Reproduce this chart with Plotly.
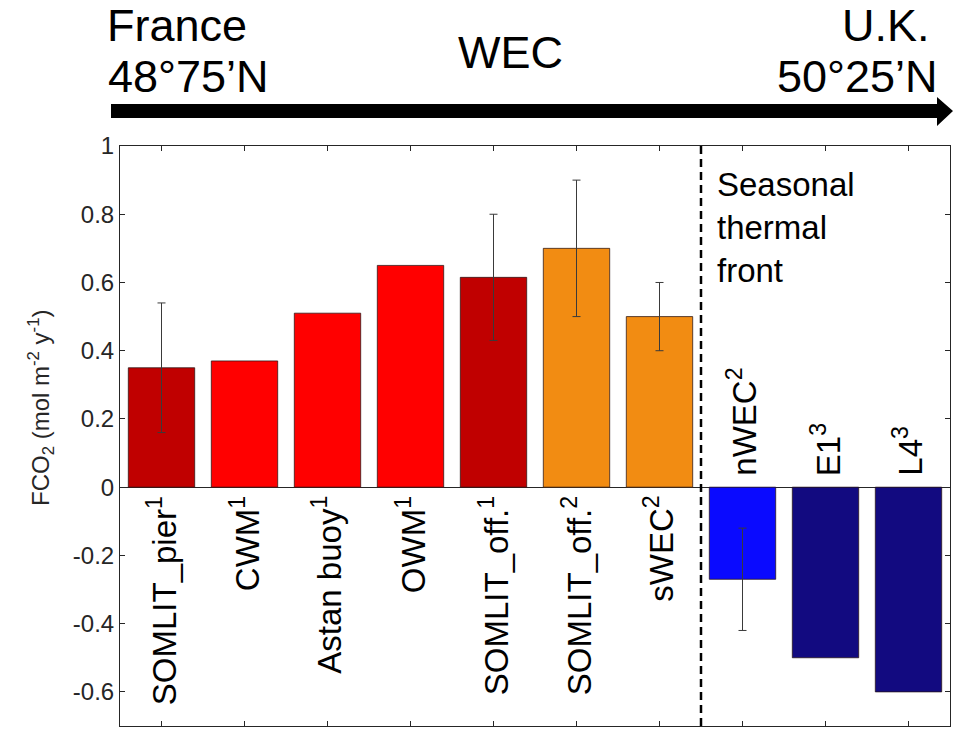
import plotly.graph_objects as go

# --- data ---
stations = ["SOMLIT_pier", "CWM", "Astan buoy", "OWM", "SOMLIT_off.",
            "SOMLIT_off.", "sWEC", "nWEC", "E1", "L4"]
refs = ["1", "1", "1", "1", "1", "2", "2", "2", "3", "3"]
fco2 = [0.35, 0.37, 0.51, 0.65, 0.615, 0.70, 0.50, -0.27, -0.50, -0.60]
err_idx = [0, 4, 5, 6, 7]
err_val = [0.19, 0.185, 0.20, 0.10, 0.15]
front_pos = 7.5  # seasonal thermal front, between sWEC and nWEC
ytick_vals = [-0.6, -0.4, -0.2, 0, 0.2, 0.4, 0.6, 0.8, 1]
ytick_text = ["-0.6", "-0.4", "-0.2", "0", "0.2", "0.4", "0.6", "0.8", "1"]

bar_colors = ["#C00000", "#FF0000", "#FF0000", "#FF0000", "#C00000",
              "#F28C12", "#F28C12", "#0A0AFF", "#120A80", "#120A80"]

W, H = 957, 733
ML, MR, MT, MB = 120, 7, 146, 7
FONT = "Arial, Liberation Sans, sans-serif"


def px(x):
    return (x - ML) / (W - ML - MR)


def py(y):
    return (H - MB - y) / (H - MT - MB)


xs = list(range(1, len(stations) + 1))

fig = go.Figure()

fig.add_trace(go.Bar(
    x=xs, y=fco2, width=0.8,
    marker=dict(color=bar_colors, line=dict(color="rgba(40,20,20,0.75)", width=1)),
    hoverinfo="y", showlegend=False,
))

# error bars only where the figure has them
fig.add_trace(go.Scatter(
    x=[xs[i] for i in err_idx], y=[fco2[i] for i in err_idx],
    mode="markers", marker=dict(size=1, opacity=0),
    error_y=dict(type="data", array=err_val, color="#3a3a3a", thickness=1, width=4),
    hoverinfo="skip", showlegend=False,
))

# station labels, rotated, on the other side of zero
for x, name, ref, v in zip(xs, stations, refs, fco2):
    fig.add_annotation(
        x=x, y=0, text=f"{name}<sup>{ref}</sup>", textangle=-90, showarrow=False,
        yanchor="top" if v > 0 else "bottom", yshift=-7 if v > 0 else 9,
        font=dict(family=FONT, size=33, color="black"),
    )

fig.add_shape(type="line", x0=front_pos, x1=front_pos, y0=-0.7, y1=1,
              line=dict(color="black", width=2.5, dash="8px,5px"))

fig.add_annotation(
    x=front_pos, y=1, xanchor="left", yanchor="top", xshift=14, yshift=-18,
    text="Seasonal<br>thermal<br>front", align="left", showarrow=False,
    font=dict(family=FONT, size=33, color="black"),
)

# y-axis title
fig.add_annotation(
    xref="paper", yref="paper", x=px(22), y=py(408), textangle=-90,
    text="FCO<sub>2</sub> (mol m<sup>-2</sup> y<sup>-1</sup>)", showarrow=False,
    font=dict(family=FONT, size=24, color="#262626"),
)

# France -> U.K. arrow on top
arrow = (f"M {px(111)},{py(104)} L {px(937)},{py(104)} L {px(937)},{py(97)} "
         f"L {px(953)},{py(111)} L {px(937)},{py(126)} L {px(937)},{py(118)} "
         f"L {px(111)},{py(118)} Z")
fig.add_shape(type="path", xref="paper", yref="paper", path=arrow,
              fillcolor="black", line=dict(width=0))

top_texts = [
    ("France", 105, 25.5, "left"),
    ("48°75’N", 106, 76, "left"),
    ("WEC", 510, 53, "center"),
    ("U.K.", 932, 25.5, "right"),
    ("50°25’N", 940, 76, "right"),
]
for txt, tx, ty, anchor in top_texts:
    fig.add_annotation(
        xref="paper", yref="paper", x=px(tx), y=py(ty), text=txt,
        xanchor=anchor, yanchor="middle", showarrow=False,
        font=dict(family=FONT, size=45, color="black"),
    )

fig.update_layout(
    width=W, height=H,
    margin=dict(l=ML, r=MR, t=MT, b=MB),
    plot_bgcolor="white", paper_bgcolor="white",
    font=dict(family=FONT),
    bargap=0.2,
)
fig.update_xaxes(
    range=[0.5, len(stations) + 0.5], tickmode="array", tickvals=xs,
    showticklabels=False, ticks="inside", ticklen=5, tickcolor="#262626",
    showline=True, linecolor="#262626", linewidth=1, mirror="ticks",
    showgrid=False, zeroline=False,
)
fig.update_yaxes(
    range=[-0.7, 1], tickmode="array", tickvals=ytick_vals, ticktext=ytick_text,
    ticks="inside", ticklen=5, tickcolor="#262626",
    tickfont=dict(family=FONT, size=24, color="#262626"),
    showline=True, linecolor="#262626", linewidth=1, mirror="ticks",
    showgrid=False, zeroline=True, zerolinecolor="#262626", zerolinewidth=1,
)

# drop the browser's default 8px body margin so the figure fills the window
fig.write_html("out.html", config={"displayModeBar": False},
               post_script="document.body.style.margin='0';")
